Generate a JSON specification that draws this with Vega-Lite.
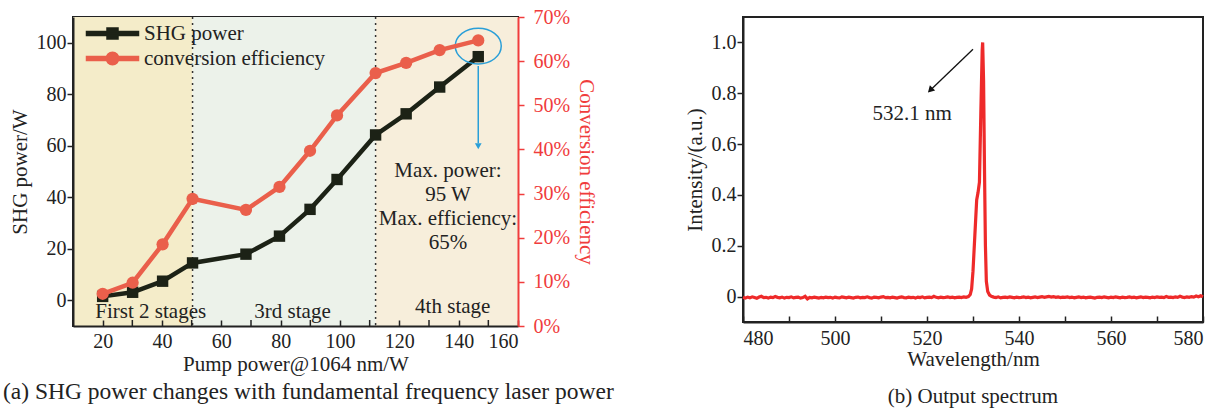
{
  "$schema": "https://vega.github.io/schema/vega-lite/v6.json",
  "padding": {"left": 2, "top": 6, "right": 5, "bottom": 0},
  "spacing": 68,
  "config": {
    "view": {"stroke": "#222", "strokeWidth": 2},
    "font": "Liberation Serif",
    "axis": {
      "labelFont": "Liberation Serif", "labelFontSize": 20, "labelColor": "#222",
      "titleFont": "Liberation Serif", "titleFontSize": 21, "titleFontWeight": "normal", "titleColor": "#222",
      "domainColor": "#222", "domainWidth": 2, "tickColor": "#222", "tickWidth": 1.5, "grid": false
    },
    "title": {"font": "Liberation Serif", "fontSize": 21, "fontWeight": "normal", "color": "#222"}
  },
  "datasets": {
    "shg": [
      {"pump": 20.0, "power": 1.5, "eff": 0.073},
      {"pump": 30.1, "power": 3.1, "eff": 0.098},
      {"pump": 40.2, "power": 7.4, "eff": 0.185},
      {"pump": 50.3, "power": 14.5, "eff": 0.288},
      {"pump": 68.3, "power": 17.9, "eff": 0.263},
      {"pump": 79.6, "power": 24.9, "eff": 0.315},
      {"pump": 89.9, "power": 35.3, "eff": 0.397},
      {"pump": 99.0, "power": 46.9, "eff": 0.477},
      {"pump": 112.0, "power": 64.2, "eff": 0.573},
      {"pump": 122.3, "power": 72.4, "eff": 0.596},
      {"pump": 133.6, "power": 82.8, "eff": 0.625},
      {"pump": 146.6, "power": 94.6, "eff": 0.647}
    ],
    "spec": [
      {"w": 480, "i": -0.003}, {"w": 480.5, "i": -0.006}, {"w": 481, "i": -0.002}, {"w": 481.5, "i": -0.005},
      {"w": 482, "i": -0.001}, {"w": 482.5, "i": -0.004}, {"w": 483, "i": -0.007}, {"w": 483.5, "i": -0.002},
      {"w": 484, "i": 0.001}, {"w": 484.5, "i": -0.004}, {"w": 485, "i": -0.003}, {"w": 485.5, "i": -0.006},
      {"w": 486, "i": -0.002}, {"w": 486.5, "i": -0.004}, {"w": 487, "i": 0.0}, {"w": 487.5, "i": -0.003},
      {"w": 488, "i": -0.005}, {"w": 488.5, "i": -0.002}, {"w": 489, "i": -0.006}, {"w": 489.5, "i": -0.003},
      {"w": 490, "i": -0.004}, {"w": 490.5, "i": -0.001}, {"w": 491, "i": -0.005}, {"w": 491.5, "i": -0.003},
      {"w": 492, "i": -0.002}, {"w": 492.5, "i": -0.006}, {"w": 493, "i": -0.004}, {"w": 493.5, "i": 0.001},
      {"w": 494, "i": -0.009}, {"w": 494.5, "i": -0.003}, {"w": 495, "i": -0.005}, {"w": 495.5, "i": -0.002},
      {"w": 496, "i": -0.004}, {"w": 496.5, "i": -0.006}, {"w": 497, "i": -0.003}, {"w": 497.5, "i": -0.005},
      {"w": 498, "i": -0.002}, {"w": 498.5, "i": -0.004}, {"w": 499, "i": -0.003}, {"w": 499.5, "i": -0.006},
      {"w": 500, "i": -0.002}, {"w": 500.5, "i": -0.004}, {"w": 501, "i": -0.005}, {"w": 501.5, "i": -0.001},
      {"w": 502, "i": -0.003}, {"w": 502.5, "i": -0.005}, {"w": 503, "i": -0.002}, {"w": 503.5, "i": -0.004},
      {"w": 504, "i": -0.006}, {"w": 504.5, "i": -0.003}, {"w": 505, "i": -0.002}, {"w": 505.5, "i": -0.005},
      {"w": 506, "i": -0.003}, {"w": 506.5, "i": -0.004}, {"w": 507, "i": -0.001}, {"w": 507.5, "i": -0.004},
      {"w": 508, "i": -0.006}, {"w": 508.5, "i": -0.002}, {"w": 509, "i": -0.003}, {"w": 509.5, "i": -0.005},
      {"w": 510, "i": -0.002}, {"w": 510.5, "i": 0.0}, {"w": 511, "i": -0.004}, {"w": 511.5, "i": -0.003},
      {"w": 512, "i": -0.005}, {"w": 512.5, "i": -0.002}, {"w": 513, "i": -0.004}, {"w": 513.5, "i": -0.006},
      {"w": 514, "i": -0.003}, {"w": 514.5, "i": -0.001}, {"w": 515, "i": -0.004}, {"w": 515.5, "i": -0.005},
      {"w": 516, "i": -0.002}, {"w": 516.5, "i": -0.004}, {"w": 517, "i": -0.003}, {"w": 517.5, "i": -0.006},
      {"w": 518, "i": -0.002}, {"w": 518.5, "i": -0.004}, {"w": 519, "i": -0.001}, {"w": 519.5, "i": -0.005},
      {"w": 520, "i": -0.003}, {"w": 520.5, "i": -0.002}, {"w": 521, "i": -0.004}, {"w": 521.5, "i": 0.001},
      {"w": 522, "i": -0.003}, {"w": 522.5, "i": -0.005}, {"w": 523, "i": -0.002}, {"w": 523.5, "i": -0.004},
      {"w": 524, "i": -0.003}, {"w": 524.5, "i": -0.001}, {"w": 525, "i": -0.004}, {"w": 525.5, "i": -0.002},
      {"w": 526, "i": -0.005}, {"w": 526.5, "i": -0.003}, {"w": 527, "i": -0.002}, {"w": 527.5, "i": -0.004},
      {"w": 528, "i": -0.001}, {"w": 528.5, "i": -0.003}, {"w": 529, "i": 0.0}, {"w": 529.4, "i": 0.008},
      {"w": 529.7, "i": 0.03}, {"w": 530.0, "i": 0.1}, {"w": 530.4, "i": 0.24}, {"w": 530.8, "i": 0.38},
      {"w": 531.1, "i": 0.41}, {"w": 531.4, "i": 0.45}, {"w": 531.7, "i": 0.72}, {"w": 532.0, "i": 0.97},
      {"w": 532.1, "i": 1.0}, {"w": 532.3, "i": 0.85}, {"w": 532.5, "i": 0.5}, {"w": 532.7, "i": 0.2},
      {"w": 532.9, "i": 0.06}, {"w": 533.2, "i": 0.02}, {"w": 533.6, "i": 0.006}, {"w": 534, "i": 0.001},
      {"w": 534.5, "i": -0.002}, {"w": 535, "i": -0.004}, {"w": 535.5, "i": -0.001}, {"w": 536, "i": -0.005},
      {"w": 536.5, "i": -0.003}, {"w": 537, "i": -0.002}, {"w": 537.5, "i": -0.004}, {"w": 538, "i": -0.001},
      {"w": 538.5, "i": -0.003}, {"w": 539, "i": -0.005}, {"w": 539.5, "i": -0.002}, {"w": 540, "i": -0.004},
      {"w": 540.5, "i": -0.003}, {"w": 541, "i": -0.001}, {"w": 541.5, "i": -0.004}, {"w": 542, "i": -0.002},
      {"w": 542.5, "i": -0.005}, {"w": 543, "i": -0.003}, {"w": 543.5, "i": -0.001}, {"w": 544, "i": -0.004},
      {"w": 544.5, "i": -0.002}, {"w": 545, "i": 0.0}, {"w": 545.5, "i": -0.003}, {"w": 546, "i": -0.001},
      {"w": 546.5, "i": 0.001}, {"w": 547, "i": -0.002}, {"w": 547.5, "i": 0.0}, {"w": 548, "i": -0.003},
      {"w": 548.5, "i": -0.001}, {"w": 549, "i": -0.004}, {"w": 549.5, "i": -0.002}, {"w": 550, "i": -0.003},
      {"w": 550.5, "i": -0.001}, {"w": 551, "i": -0.004}, {"w": 551.5, "i": -0.002}, {"w": 552, "i": -0.005},
      {"w": 552.5, "i": -0.003}, {"w": 553, "i": -0.001}, {"w": 553.5, "i": -0.004}, {"w": 554, "i": -0.002},
      {"w": 554.5, "i": -0.005}, {"w": 555, "i": -0.003}, {"w": 555.5, "i": -0.002}, {"w": 556, "i": -0.004},
      {"w": 556.5, "i": -0.006}, {"w": 557, "i": -0.003}, {"w": 557.5, "i": -0.002}, {"w": 558, "i": -0.004},
      {"w": 558.5, "i": -0.001}, {"w": 559, "i": -0.003}, {"w": 559.5, "i": -0.005}, {"w": 560, "i": -0.002},
      {"w": 560.5, "i": -0.004}, {"w": 561, "i": -0.001}, {"w": 561.5, "i": -0.003}, {"w": 562, "i": -0.005},
      {"w": 562.5, "i": -0.002}, {"w": 563, "i": -0.004}, {"w": 563.5, "i": -0.003}, {"w": 564, "i": -0.001},
      {"w": 564.5, "i": -0.004}, {"w": 565, "i": -0.002}, {"w": 565.5, "i": -0.005}, {"w": 566, "i": -0.003},
      {"w": 566.5, "i": -0.001}, {"w": 567, "i": -0.004}, {"w": 567.5, "i": -0.002}, {"w": 568, "i": -0.003},
      {"w": 568.5, "i": -0.005}, {"w": 569, "i": -0.002}, {"w": 569.5, "i": -0.004}, {"w": 570, "i": -0.001},
      {"w": 570.5, "i": -0.003}, {"w": 571, "i": -0.002}, {"w": 571.5, "i": -0.004}, {"w": 572, "i": 0.0},
      {"w": 572.5, "i": -0.003}, {"w": 573, "i": -0.002}, {"w": 573.5, "i": -0.004}, {"w": 574, "i": -0.001},
      {"w": 574.5, "i": -0.003}, {"w": 575, "i": 0.001}, {"w": 575.5, "i": -0.002}, {"w": 576, "i": -0.004},
      {"w": 576.5, "i": -0.001}, {"w": 577, "i": -0.003}, {"w": 577.5, "i": 0.0}, {"w": 578, "i": -0.002},
      {"w": 578.5, "i": 0.002}, {"w": 579, "i": -0.001}, {"w": 579.5, "i": 0.003}, {"w": 580, "i": -0.001}
    ]
  },
  "hconcat": [
    {
      "width": 445,
      "height": 309,
      "title": {"text": "(a) SHG power changes with fundamental frequency laser power", "orient": "bottom", "offset": 6, "fontSize": 23.5, "anchor": "start", "frame": "bounds", "dx": -6},
      "layer": [
        {
          "layer": [
            {
              "data": {"values": [
                {"stage": "first", "a": 10, "b": 50.3},
                {"stage": "third", "a": 50.3, "b": 112},
                {"stage": "fourth", "a": 112, "b": 160}
              ]},
              "mark": {"type": "rect"},
              "encoding": {
                "x": {"field": "a", "type": "quantitative", "title": "Pump power@1064 nm/W",
                  "scale": {"domain": [10, 160], "nice": false, "zero": false},
                  "axis": {"tickCount": 8, "tickSize": -6, "labelPadding": 11, "titlePadding": 2, "zindex": 1}},
                "x2": {"field": "b"},
                "fill": {"field": "stage", "type": "nominal", "legend": null,
                  "scale": {"domain": ["first", "third", "fourth"], "range": ["#f4ecc9", "#ecf2ea", "#f7eedb"]}}
              }
            },
            {
              "data": {"values": [{"px": 50.3}, {"px": 112}]},
              "mark": {"type": "rule", "strokeDash": [2, 4], "strokeWidth": 1.5, "color": "#333"},
              "encoding": {"x": {"field": "px", "type": "quantitative", "title": "Pump power@1064 nm/W"}}
            },
            {
              "data": {"values": [{"m": 30}, {"m": 50}, {"m": 70}, {"m": 90}, {"m": 110}, {"m": 130}, {"m": 150}]},
              "mark": {"type": "rule", "strokeWidth": 1.5, "color": "#222"},
              "encoding": {
                "x": {"field": "m", "type": "quantitative", "title": "Pump power@1064 nm/W"},
                "y": {"datum": -10, "type": "quantitative", "title": "SHG power/W"},
                "y2": {"datum": -7.66}
              }
            },
            {
              "data": {"name": "shg"},
              "mark": {"type": "line", "strokeWidth": 4.5},
              "encoding": {
                "x": {"field": "pump", "type": "quantitative", "title": "Pump power@1064 nm/W"},
                "y": {"field": "power", "type": "quantitative", "title": "SHG power/W",
                  "scale": {"domain": [-10, 110], "nice": false, "zero": false},
                  "axis": {"values": [0, 20, 40, 60, 80, 100], "tickSize": 6, "labelPadding": 1, "titlePadding": 6, "zindex": 1}},
                "color": {"datum": "SHG power",
                  "scale": {"domain": ["SHG power", "conversion efficiency"], "range": ["#1c2216", "#ea5f4b"]},
                  "legend": {"title": null, "orient": "none", "legendX": 29, "legendY": 6, "padding": 0,
                    "symbolSize": 100, "labelOffset": 21, "rowPadding": 3, "labelLimit": 0,
                    "labelFont": "Liberation Serif", "labelFontSize": 21, "labelColor": "#222",
                    "encode": {"symbols": {"update": {
                      "shape": {"signal": "datum.value == 'SHG power' ? 'M-5.2,-0.4L5.2,-0.4L5.2,0.4L-5.2,0.4Z M-1.1,-1.1L1.1,-1.1L1.1,1.1L-1.1,1.1Z' : 'M-5.2,-0.4L5.2,-0.4L5.2,0.4L-5.2,0.4Z M-1.25,0A1.25,1.25 0 1,1 1.25,0A1.25,1.25 0 1,1 -1.25,0Z'"},
                      "fill": {"signal": "datum.value == 'SHG power' ? '#1c2216' : '#ea5f4b'"},
                      "stroke": {"value": "transparent"},
                      "opacity": {"value": 1}, "fillOpacity": {"value": 1}
                    }}}}
                }
              }
            },
            {
              "data": {"name": "shg"},
              "mark": {"type": "point", "shape": "square", "filled": true, "size": 130, "opacity": 1},
              "encoding": {
                "x": {"field": "pump", "type": "quantitative", "title": "Pump power@1064 nm/W"},
                "y": {"field": "power", "type": "quantitative", "title": "SHG power/W"},
                "color": {"datum": "SHG power"}
              }
            },
            {
              "data": {"values": [{"px": 146.6, "py": 98.7}]},
              "mark": {"type": "point", "shape": "M-1,0A1,0.78 0 1,1 1,0A1,0.78 0 1,1 -1,0Z", "size": 2116, "filled": false, "stroke": "#2a9fd8", "strokeWidth": 1.5, "opacity": 1},
              "encoding": {
                "x": {"field": "px", "type": "quantitative", "title": "Pump power@1064 nm/W"},
                "y": {"field": "py", "type": "quantitative", "title": "SHG power/W"}
              }
            },
            {
              "data": {"values": [{"px": 146.6, "y1": 91, "y2": 61}]},
              "mark": {"type": "rule", "stroke": "#2a9fd8", "strokeWidth": 1.5},
              "encoding": {
                "x": {"field": "px", "type": "quantitative", "title": "Pump power@1064 nm/W"},
                "y": {"field": "y1", "type": "quantitative", "title": "SHG power/W"},
                "y2": {"field": "y2"}
              }
            },
            {
              "data": {"values": [{"px": 146.6, "py": 59.8}]},
              "mark": {"type": "point", "shape": "triangle-down", "size": 45, "filled": true, "color": "#2a9fd8", "opacity": 1},
              "encoding": {
                "x": {"field": "px", "type": "quantitative", "title": "Pump power@1064 nm/W"},
                "y": {"field": "py", "type": "quantitative", "title": "SHG power/W"}
              }
            },
            {
              "data": {"values": [
                {"tx": 36.2, "ty": -6.9, "label": "First 2 stages"},
                {"tx": 84.0, "ty": -6.7, "label": "3rd stage"},
                {"tx": 138.0, "ty": -5.0, "label": "4th stage"},
                {"tx": 136.4, "ty": 47.7, "label": "Max. power:\n95 W\nMax. efficiency:\n65%"}
              ]},
              "mark": {"type": "text", "font": "Liberation Serif", "fontSize": 21, "color": "#222", "align": "center", "baseline": "alphabetic", "lineBreak": "\n", "lineHeight": 23.7},
              "encoding": {
                "x": {"field": "tx", "type": "quantitative", "title": "Pump power@1064 nm/W"},
                "y": {"field": "ty", "type": "quantitative", "title": "SHG power/W"},
                "text": {"field": "label"}
              }
            }
          ]
        },
        {
          "layer": [
            {
              "data": {"name": "shg"},
              "mark": {"type": "line", "strokeWidth": 4.5},
              "encoding": {
                "x": {"field": "pump", "type": "quantitative", "title": "Pump power@1064 nm/W"},
                "y": {"field": "eff", "type": "quantitative", "title": "Conversion efficiency",
                  "scale": {"domain": [0, 0.7], "nice": false},
                  "axis": {"orient": "right", "format": ".0%", "values": [0, 0.1, 0.2, 0.3, 0.4, 0.5, 0.6, 0.7],
                    "domainColor": "#f03c3c", "tickColor": "#f03c3c", "labelColor": "#f03c3c", "titleColor": "#f03c3c",
                    "tickSize": 6, "labelPadding": 9, "titlePadding": 6, "zindex": 1}},
                "color": {"datum": "conversion efficiency"}
              }
            },
            {
              "data": {"name": "shg"},
              "mark": {"type": "point", "shape": "circle", "filled": true, "size": 150, "opacity": 1},
              "encoding": {
                "x": {"field": "pump", "type": "quantitative", "title": "Pump power@1064 nm/W"},
                "y": {"field": "eff", "type": "quantitative", "title": "Conversion efficiency"},
                "color": {"datum": "conversion efficiency"}
              }
            }
          ]
        }
      ],
      "resolve": {"scale": {"y": "independent"}}
    },
    {
      "width": 460,
      "height": 305,
      "title": {"text": "(b) Output spectrum", "orient": "bottom", "offset": 17, "frame": "group"},
      "layer": [
        {
          "data": {"name": "spec"},
          "mark": {"type": "line", "color": "#ee2a2a", "strokeWidth": 3.2},
          "encoding": {
            "x": {"field": "w", "type": "quantitative", "title": "Wavelength/nm",
              "scale": {"domain": [480, 580], "nice": false, "zero": false},
              "axis": {"values": [480, 490, 500, 510, 520, 530, 540, 550, 560, 570, 580],
                "labelExpr": "(datum.value - 480) % 20 === 0 ? format(datum.value, 'd') : ''", "tickSize": -6, "labelPadding": 12, "titlePadding": 0}},
            "y": {"field": "i", "type": "quantitative", "title": "Intensity/(a.u.)",
              "scale": {"domain": [-0.1, 1.1], "nice": false, "zero": false},
              "axis": {"values": [0, 0.2, 0.4, 0.6, 0.8, 1.0], "labelExpr": "datum.value == 0 ? '0' : format(datum.value, '.1f')",
                "tickSize": 6, "labelPadding": 1, "titlePadding": 6}}
          }
        },
        {
          "data": {"values": [{"x1": 530.0, "y1": 0.973, "x2": 520.6, "y2": 0.81}]},
          "mark": {"type": "rule", "color": "#111", "strokeWidth": 1.3},
          "encoding": {
            "x": {"field": "x1", "type": "quantitative"},
            "y": {"field": "y1", "type": "quantitative"},
            "x2": {"field": "x2"},
            "y2": {"field": "y2"}
          }
        },
        {
          "data": {"values": [{"x1": 520.7, "y1": 0.812}]},
          "mark": {"type": "point", "shape": "triangle-up", "angle": 225, "size": 55, "filled": true, "color": "#111", "opacity": 1},
          "encoding": {
            "x": {"field": "x1", "type": "quantitative"},
            "y": {"field": "y1", "type": "quantitative"}
          }
        },
        {
          "data": {"values": [{"tx": 516.8, "ty": 0.72, "label": "532.1 nm"}]},
          "mark": {"type": "text", "font": "Liberation Serif", "fontSize": 21, "color": "#222", "align": "center", "baseline": "middle"},
          "encoding": {
            "x": {"field": "tx", "type": "quantitative"},
            "y": {"field": "ty", "type": "quantitative"},
            "text": {"field": "label"}
          }
        }
      ]
    }
  ]
}
